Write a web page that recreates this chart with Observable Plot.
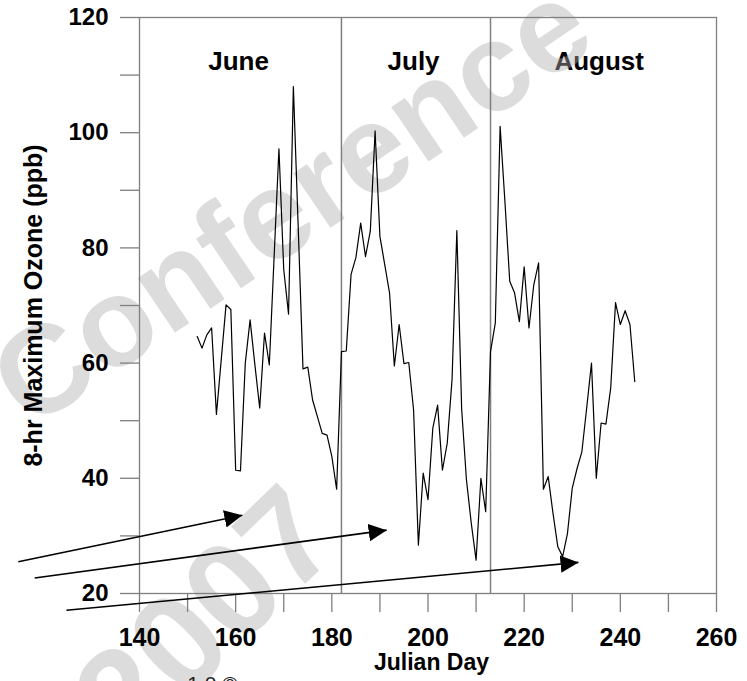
<!DOCTYPE html>
<html><head><meta charset="utf-8">
<script src="https://cdn.jsdelivr.net/npm/d3@7"></script>
<script src="https://cdn.jsdelivr.net/npm/@observablehq/plot@0.6"></script>
<style>
html,body{margin:0;padding:0;background:#fff;overflow:hidden;width:747px;height:681px;}
#chart svg{display:block;}
</style></head><body><div id="chart"></div>
<script>
// Julian day of each daily value
const days = [152,153,154,155,156,157,158,159,160,161,162,163,164,165,166,167,168,169,170,171,
  172,173,174,175,176,177,178,179,180,181,182,183,184,185,186,187,188,189,190,191,
  192,193,194,195,196,197,198,199,200,201,202,203,204,205,206,207,208,209,210,211,
  212,213,214,215,216,217,218,219,220,221,222,223,224,225,226,227,228,229,230,231,
  232,233,234,235,236,237,238,239,240,241,242,243];
// 8-hr maximum ozone (ppb)
const ozone = [64.6,62.6,64.9,66.1,51.1,60.6,70.1,69.3,41.4,41.3,60.0,67.5,59.7,52.2,65.2,59.7,78.5,97.2,76.2,68.5,
  108.0,83.8,59.0,59.3,53.6,50.7,47.8,47.5,43.8,38.1,62.0,62.1,75.4,78.3,84.3,78.5,82.9,100.3,82.0,77.1,
  72.2,59.5,66.7,59.9,60.1,51.9,28.4,40.9,36.3,48.7,52.7,41.4,46.1,57.1,83.0,52.0,39.7,32.2,25.8,40.0,
  34.2,62.0,67.0,101.1,88.0,74.2,72.2,67.2,76.7,66.1,73.6,77.4,38.1,40.3,33.9,28.1,26.4,30.4,38.3,41.7,
  44.6,52.2,60.0,40.0,49.6,49.4,55.7,70.5,66.7,69.1,66.7,56.8];

const monthNames = ["June", "July", "August"];
const monthLabelDay = [160.6, 197.0, 235.6];
const monthLabelOzone = [112.4, 112.4, 112.4];
const monthStarts = [182, 213];

const xTicks = [140,150,160,170,180,190,200,210,220,230,240,250,260];
const xTickLabels = [140,160,180,200,220,240,260];
const yTicks = [20,30,40,50,60,70,80,90,100,110,120];
const yTickLabels = [20,40,60,80,100,120];

// annotation arrows (data units)
const arrowFromDay = [114.8, 118.2, 124.8];
const arrowFromOzone = [25.5, 22.7, 17.1];
const arrowToDay = [161.4, 191.4, 231.3];
const arrowToOzone = [33.6, 31.0, 25.4];

const watermarkText = ["Conference", "2007"];
const watermarkDay = [171.8, 154.1];
const watermarkOzone = [87.4, 15.7];
const watermarkAngle = [-34, -44];
const watermarkSize = [125, 135];

const footText = ["1.0 ©"];
const footDay = [155.2];
const footOzone = [4.2];

const series = days.map((d, i) => ({day: d, ozone: ozone[i]}));
const arrows = arrowFromDay.map((d, i) => ({x1: d, y1: arrowFromOzone[i], x2: arrowToDay[i], y2: arrowToOzone[i]}));
const months = monthNames.map((m, i) => ({m, x: monthLabelDay[i], y: monthLabelOzone[i]}));
const wm = watermarkText.map((t, i) => ({t, x: watermarkDay[i], y: watermarkOzone[i], r: watermarkAngle[i], s: watermarkSize[i]}));

function triHead(color, context) {
  const doc = (context && context.document) || document;
  const ns = "http://www.w3.org/2000/svg";
  const m = doc.createElementNS(ns, "marker");
  m.setAttribute("viewBox", "-18 -9 18 18");
  m.setAttribute("markerWidth", "18");
  m.setAttribute("markerHeight", "18");
  m.setAttribute("markerUnits", "userSpaceOnUse");
  m.setAttribute("refX", "0");
  m.setAttribute("refY", "0");
  m.setAttribute("orient", "auto");
  const p = doc.createElementNS(ns, "path");
  p.setAttribute("d", "M-18,-8.8L0,0L-18,8.8Z");
  p.setAttribute("fill", color);
  p.setAttribute("stroke", "none");
  m.appendChild(p);
  return m;
}

const gray = "#7f7f7f";
const wmMarks = wm.map(w => Plot.text([w], {x: "x", y: "y", text: "t", rotate: w.r, fontSize: w.s, fontWeight: "bold", fill: "#adadad", fillOpacity: 0.43, lineAnchor: "middle"}));
const chart = Plot.plot({
  width: 747,
  height: 681,
  marginLeft: 139,
  marginRight: 31,
  marginTop: 17,
  marginBottom: 88,
  style: {fontFamily: "'Liberation Sans', Arial, sans-serif", background: "white", overflow: "visible"},
  x: {domain: [140, 260]},
  y: {domain: [20, 120]},
  marks: [
    Plot.text(months, {x: "x", y: "y", text: "m", fontSize: 26, fontWeight: "bold", fill: "black"}),
    ...wmMarks,
    Plot.frame({stroke: gray, strokeWidth: 1.3}),
    Plot.ruleX(monthStarts, {stroke: gray, strokeWidth: 1.5}),
    Plot.line(series, {x: "day", y: "ozone", stroke: "black", strokeWidth: 1.2}),
    Plot.axisX({ticks: xTicks, tickSize: 19, tickPadding: 16, tickFormat: d => xTickLabels.includes(d) ? String(d) : "", fontSize: 25, fontWeight: "bold", fill: "black", stroke: gray, strokeWidth: 1.3, label: null}),
    Plot.axisY({ticks: yTicks, tickSize: 19, tickPadding: 12, tickFormat: d => yTickLabels.includes(d) ? String(d) : "", fontSize: 24, fontWeight: "bold", fill: "black", stroke: gray, strokeWidth: 1.3, label: null}),
    Plot.text(["Julian Day"], {frameAnchor: "bottom", dx: 3.5, dy: 76, fontSize: 23, fontWeight: "bold", fill: "black"}),
    Plot.text(["8-hr Maximum Ozone (ppb)"], {frameAnchor: "left", textAnchor: "middle", rotate: -90, dx: -106, dy: 0, fontSize: 25, fontWeight: "bold", fill: "black"}),
    Plot.link(arrows, {x1: "x1", y1: "y1", x2: "x2", y2: "y2", stroke: "black", strokeWidth: 1.6, markerEnd: triHead}),
    Plot.text(footText, {x: footDay, y: footOzone, fontSize: 21, fill: "#222"})
  ]
});
document.getElementById("chart").appendChild(chart);
</script>
</body></html>
